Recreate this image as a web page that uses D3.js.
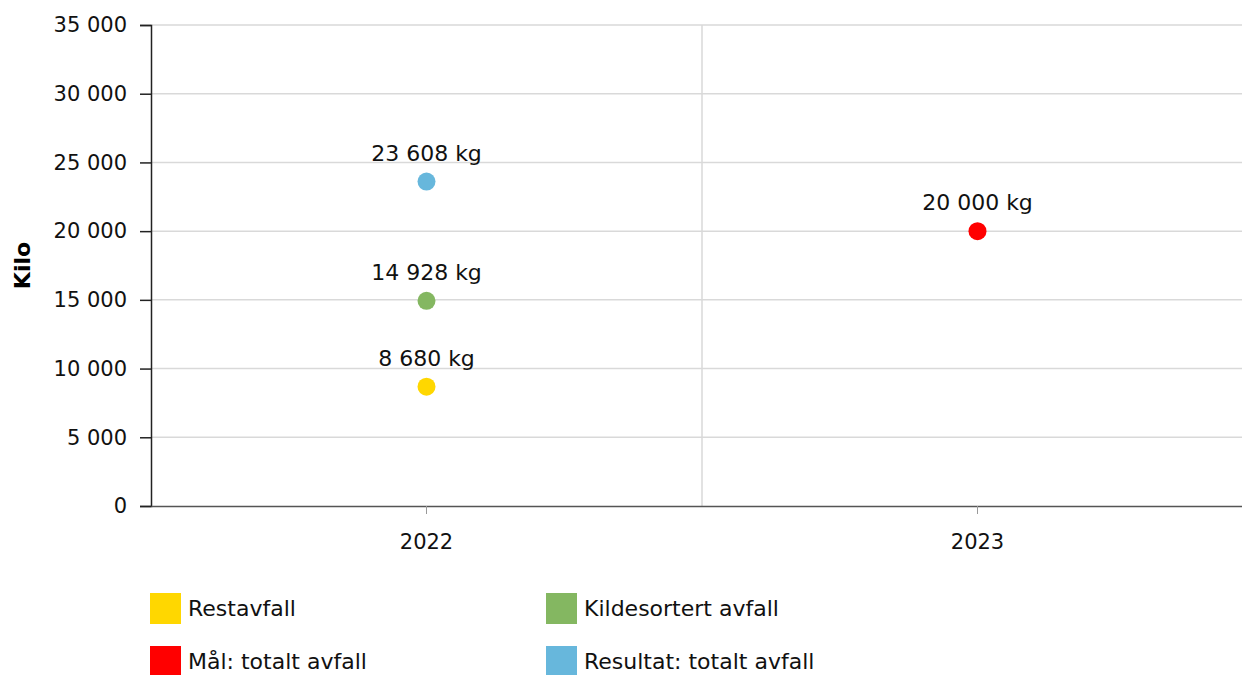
<!DOCTYPE html>
<html>
<head>
<meta charset="utf-8">
<script src="https://cdn.jsdelivr.net/npm/d3@7"></script>
<style>
  body { margin: 0; background: #fff; }
  svg { font-family: "DejaVu Sans", Verdana, sans-serif; }
</style>
</head>
<body>
<div id="chart"></div>
<script>
var width = 1242, height = 675,
    margin = {left: 151, top: 25, right: -11, bottom: 169},
    fontSize = 21, labelSize = 22;

// data
var years = ["2022", "2023"];
var seriesNames = ["Restavfall", "Kildesortert avfall", "Mål: totalt avfall", "Resultat: totalt avfall"];
var seriesColors = ["#ffd700", "#84b761", "#ff0000", "#67b7dc"];
var seriesYears = ["2022", "2022", "2023", "2022"];
var seriesValues = [8680, 14928, 20000, 23608];
var yTicks = [0, 5000, 10000, 15000, 20000, 25000, 30000, 35000];

var fmt = function(v) { return d3.format(",")(v).replace(/,/g, " "); };

var x = d3.scaleBand()
    .domain(years)
    .range([margin.left, width - margin.right]);

var y = d3.scaleLinear()
    .domain([0, 35000])
    .range([height - margin.bottom, margin.top]);

var svg = d3.select("#chart").append("svg")
    .attr("width", width)
    .attr("height", height);

// horizontal grid
svg.append("g")
  .selectAll("line")
  .data(yTicks.slice(1))
  .enter().append("line")
    .attr("x1", margin.left).attr("x2", width)
    .attr("y1", function(d) { return y(d); })
    .attr("y2", function(d) { return y(d); })
    .attr("stroke", "#d9d9d9")
    .attr("stroke-width", 1.5);

// vertical grid between years
svg.append("line")
    .attr("x1", x("2023")).attr("x2", x("2023"))
    .attr("y1", margin.top).attr("y2", y(0))
    .attr("stroke", "#d9d9d9")
    .attr("stroke-width", 1.5);

// y axis
var yAxis = svg.append("g")
    .attr("transform", "translate(" + margin.left + ",0)")
    .call(d3.axisLeft(y).tickValues(yTicks).tickFormat(fmt).tickSize(11).tickPadding(13));
yAxis.select(".domain").attr("stroke", "#222").attr("stroke-width", 1.5);
yAxis.selectAll(".tick line").attr("stroke", "#222").attr("stroke-width", 1.5);
yAxis.selectAll("text").attr("font-size", fontSize).attr("fill", "#111").attr("font-family", "DejaVu Sans");

// x axis
var xAxis = svg.append("g")
    .attr("transform", "translate(0," + y(0) + ")")
    .call(d3.axisBottom(x).tickSize(8).tickPadding(20).tickSizeOuter(0));
xAxis.select(".domain").attr("stroke", "#555").attr("stroke-width", 1.5);
xAxis.selectAll(".tick line").attr("stroke", "#999");
xAxis.selectAll("text").attr("font-size", fontSize).attr("fill", "#111").attr("font-family", "DejaVu Sans");

// axis title
svg.append("text")
    .attr("transform", "translate(30," + ((margin.top + y(0)) / 2) + ") rotate(-90)")
    .attr("text-anchor", "middle")
    .attr("font-size", labelSize)
    .attr("font-weight", "bold")
    .text("Kilo");

// points
var pts = svg.append("g")
  .selectAll("g")
  .data(seriesValues)
  .enter().append("g");

pts.append("circle")
    .attr("cx", function(d, i) { return x(seriesYears[i]) + x.bandwidth() / 2; })
    .attr("cy", function(d) { return y(d); })
    .attr("r", 9)
    .attr("fill", function(d, i) { return seriesColors[i]; });

pts.append("text")
    .attr("x", function(d, i) { return x(seriesYears[i]) + x.bandwidth() / 2; })
    .attr("y", function(d) { return y(d) - 21; })
    .attr("text-anchor", "middle")
    .attr("font-size", labelSize)
    .attr("fill", "#111")
    .text(function(d) { return fmt(d) + " kg"; });

// legend
var legendOrder = [0, 1, 2, 3];
var leg = svg.append("g")
  .selectAll("g")
  .data(legendOrder)
  .enter().append("g")
    .attr("transform", function(d, i) {
      return "translate(" + (150 + (i % 2) * 396) + "," + (593 + Math.floor(i / 2) * 53) + ")";
    });

leg.append("rect")
    .attr("width", 31).attr("height", 31)
    .attr("fill", function(d) { return seriesColors[d]; });

leg.append("text")
    .attr("x", 38).attr("y", 15.5)
    .attr("dy", "0.35em")
    .attr("font-size", labelSize)
    .attr("fill", "#111")
    .text(function(d) { return seriesNames[d]; });
</script>
</body>
</html>
